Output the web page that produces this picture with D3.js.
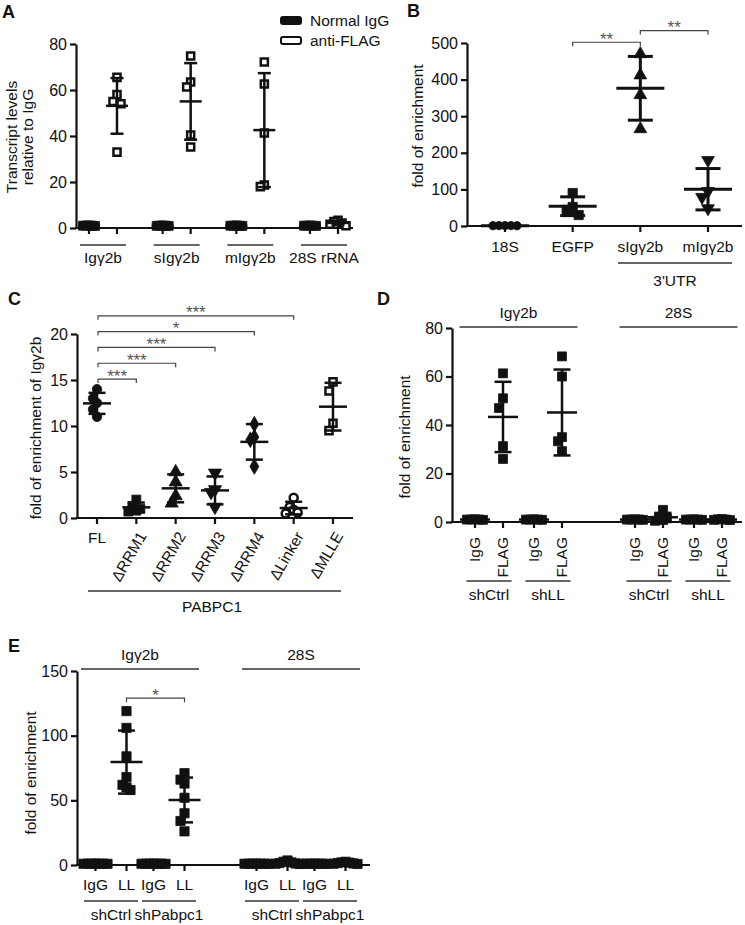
<!DOCTYPE html>
<html lang="en">
<head>
<meta charset="UTF-8">
<title>PABPC1 RIP panels</title>
<style>
  body { margin: 0; background: #fff; }
  svg { font-family: "Liberation Sans", Arial, sans-serif; }
  .axis text { font-size: 16px; fill: #111; }
  .axis path, .axis line { stroke: #111; stroke-width: 2.2; }
  .lab { font-size: 15.5px; fill: #111; }
  .letter { font-size: 18px; font-weight: bold; fill: #111; }
  .sig { font-size: 17px; fill: #555; }
  .bracket { fill: none; stroke: #444; stroke-width: 1.2; }
  .rule { stroke: #333; stroke-width: 1.4; }
</style>
</head>
<body>
<svg width="745" height="925"></svg>
<script src="https://d3js.org/d3.v7.min.js"></script>
<script>

// ---------- data ----------
// A: transcript levels relative to IgG
var aGroups = ["Igγ2b", "sIgγ2b", "mIgγ2b", "28S rRNA"];
var aNormalIgG = [
  [1.0, 1.1, 0.9, 1.0, 1.05],
  [1.0, 0.9, 1.1, 1.0, 0.95],
  [1.0, 1.1, 0.9, 1.0, 1.0],
  [1.0, 1.0, 0.9, 1.1, 1.0]
];
var aAntiFlag = [
  [65.5, 58, 55, 54, 33],
  [74.8, 63.5, 61.3, 40.4, 35.2],
  [72.2, 62.6, 41.3, 18.7, 18.0],
  [3.4, 2.8, 2.2, 1.6, 1.0]
];
var aTicks = [0, 20, 40, 60, 80];

// B: fold of enrichment
var bTargets = ["18S", "EGFP", "sIgγ2b", "mIgγ2b"];
var bFold = [
  [1.0, 1.2, 0.8, 1.1, 0.9],
  [90, 52, 44, 30],
  [470, 412, 358, 265],
  [180, 95, 79, 48]
];
var bTests = [["EGFP", "sIgγ2b", "**"], ["sIgγ2b", "mIgγ2b", "**"]];
var bTicks = [0, 100, 200, 300, 400, 500];

// C: PABPC1 deletion mutants
var cConstructs = ["FL", "ΔRRM1", "ΔRRM2", "ΔRRM3", "ΔRRM4", "ΔLinker", "ΔMLLE"];
var cFold = [
  [14.0, 13.0, 12.5, 11.8, 11.0],
  [2.0, 1.3, 1.0, 0.8, 0.7],
  [5.0, 3.9, 2.4, 1.6],
  [4.9, 3.1, 2.8, 1.2],
  [10.2, 8.8, 8.5, 5.6],
  [2.2, 1.2, 0.9, 0.6, 0.5],
  [14.8, 13.8, 10.3, 9.5]
];
var cTests = [["FL", "ΔRRM1", "***"], ["FL", "ΔRRM2", "***"], ["FL", "ΔRRM3", "***"],
              ["FL", "ΔRRM4", "*"], ["FL", "ΔLinker", "***"]];
var cTicks = [0, 5, 10, 15, 20];

// D: shCtrl IgG, shCtrl FLAG, shLL IgG, shLL FLAG
var dTargets = ["Igγ2b", "28S"];
var dShRNA = ["shCtrl", "shLL"];
var dIP = ["IgG", "FLAG"];
var dIgy2b = [
  [1.0, 1.1, 0.9, 1.0, 1.05],
  [61.3, 51, 47, 31.3, 26],
  [1.0, 1.1, 0.9, 1.0, 1.0],
  [68.3, 60, 35, 33.3, 29.2]
];
var d28S = [
  [1.0, 1.1, 0.9, 1.0, 1.0],
  [5.0, 2.0, 1.5, 0.8, 0.5],
  [1.0, 1.1, 0.9, 1.0, 1.0],
  [1.2, 1.0, 0.9, 1.1, 0.8]
];
var dTicks = [0, 20, 40, 60, 80];

// E: shCtrl IgG, shCtrl LL, shPabpc1 IgG, shPabpc1 LL
var eTargets = ["Igγ2b", "28S"];
var eShRNA = ["shCtrl", "shPabpc1"];
var eIP = ["IgG", "LL"];
var eIgy2b = [
  [1.0, 1.1, 0.9, 1.0, 1.05, 0.95, 1.0],
  [119, 106, 84, 68, 62, 60, 58],
  [1.0, 1.1, 0.9, 1.0, 1.05, 0.95, 1.0],
  [71, 66, 63, 52, 40, 34, 26]
];
var e28S = [
  [1.0, 1.1, 0.9, 1.0, 1.05, 0.95, 1.0],
  [3.5, 2.5, 2.0, 1.5, 1.2, 1.0, 0.8],
  [1.0, 1.1, 0.9, 1.0, 1.05, 0.95, 1.0],
  [2.5, 2.0, 1.8, 1.5, 1.2, 1.0, 0.8]
];
var eTests = [["shCtrl", "shPabpc1", "*"]];
var eTicks = [0, 50, 100, 150];

// ---------- helpers ----------
var svg = d3.select("svg");

function text(x, y, s, cls, anchor) {
  return svg.append("text").attr("class", cls).attr("x", x).attr("y", y)
    .attr("text-anchor", anchor || "middle").text(s);
}

function vtitle(x, y, s) {
  svg.append("text").attr("class", "lab").attr("text-anchor", "middle")
    .attr("transform", "translate(" + x + "," + y + ") rotate(-90)")
    .attr("dy", "0.35em").text(s);
}

function rule(x1, x2, y) {
  svg.append("line").attr("class", "rule").attr("x1", x1).attr("x2", x2).attr("y1", y).attr("y2", y);
}

function yAxis(y, x, ticks) {
  svg.append("g").attr("class", "axis").attr("transform", "translate(" + x + ",0)")
    .call(d3.axisLeft(y).tickValues(ticks).tickSize(6).tickSizeOuter(0).tickPadding(3))
    .attr("font-family", null).attr("font-size", null);
}

function xBase(x0, x1, y0, xs) {
  svg.append("line").attr("x1", x0 - 1).attr("x2", x1).attr("y1", y0).attr("y2", y0)
    .attr("stroke", "#111").attr("stroke-width", 2.2);
  svg.append("g").selectAll("line").data(xs).join("line")
    .attr("x1", function(d) { return d; }).attr("x2", function(d) { return d; })
    .attr("y1", y0).attr("y2", y0 + 6)
    .attr("stroke", "#111").attr("stroke-width", 2.2);
}

function bracket(x1, x2, yb, label) {
  svg.append("path").attr("class", "bracket")
    .attr("d", "M" + x1 + "," + (yb + 4) + "V" + yb + "H" + x2 + "V" + (yb + 4));
  text((x1 + x2) / 2, yb + 2.5, label, "sig");
}

var shapes = {
  square: d3.symbolSquare, circle: d3.symbolCircle,
  up: d3.symbolTriangle, down: d3.symbolTriangle, diamond: d3.symbolDiamond
};

// scatter dot plot column: swarm points, then mean +/- SD on top
function column(x, vals, y, st) {
  var pts = vals.map(function(v) { return {v: v, py: y(v)}; })
    .sort(function(a, b) { return a.py - b.py; });
  var placed = [];
  pts.forEach(function(p) {
    for (var k = 0; k < 40; k++) {
      var off = (k % 2 ? -1 : 1) * Math.ceil(k / 2) * st.spread;
      var ok = placed.every(function(q) {
        return Math.abs(q.px - (x + off)) >= st.spread * 0.99 || Math.abs(q.py - p.py) >= st.coll;
      });
      if (ok) { p.px = x + off; break; }
    }
    placed.push(p);
  });

  var sym = d3.symbol().type(shapes[st.shape]).size(st.size);
  svg.append("g").selectAll("path").data(pts).join("path")
    .attr("d", sym)
    .attr("transform", function(d) {
      return "translate(" + d.px + "," + d.py + ")" + (st.shape === "down" ? " rotate(180)" : "");
    })
    .attr("fill", st.open ? "#fff" : "#111")
    .attr("stroke", "#111")
    .attr("stroke-width", st.open ? 2.5 : 0.8);

  var m = d3.mean(vals), sd = d3.deviation(vals);
  var eb = svg.append("g").attr("stroke", "#111").attr("stroke-width", st.lw);
  eb.append("line").attr("x1", x).attr("x2", x).attr("y1", y(m - sd)).attr("y2", y(m + sd));
  [m - sd, m + sd].forEach(function(v) {
    eb.append("line").attr("x1", x - st.cap / 2).attr("x2", x + st.cap / 2).attr("y1", y(v)).attr("y2", y(v));
  });
  eb.append("line").attr("x1", x - st.mean / 2).attr("x2", x + st.mean / 2).attr("y1", y(m)).attr("y2", y(m));
}

// ---------- panel A ----------
var yA = d3.scaleLinear().domain([0, 80]).range([228, 44]);
var xA = d3.scalePoint().domain(aGroups).range([103, 324]);
var xAm = d3.scalePoint().domain(["IgG", "FLAG"]).range([-14, 14]);
var aPos = [];
aGroups.forEach(function(g) { aPos.push(xA(g) + xAm("IgG"), xA(g) + xAm("FLAG")); });
xBase(76, 353, yA(0), aPos);
yAxis(yA, 76, aTicks);
var stA = {spread: 3, coll: 10, cap: 13, mean: 22, lw: 2.5};
aGroups.forEach(function(g, i) {
  column(xA(g) + xAm("IgG"), aNormalIgG[i], yA, Object.assign({shape: "square", size: 80, open: false}, stA));
  column(xA(g) + xAm("FLAG"), aAntiFlag[i], yA, Object.assign({shape: "square", size: 50, open: true, spread: 4}, stA, {spread: 4}));
  rule(xA(g) - 23, xA(g) + 23, 245);
  text(xA(g), 263, g, "lab");
});
text(2, 18, "A", "letter", "start");
vtitle(12, 137, "Transcript levels");
vtitle(28, 137, "relative to IgG");
svg.append("rect").attr("x", 280).attr("y", 16).attr("width", 22).attr("height", 9).attr("rx", 3).attr("fill", "#111");
svg.append("rect").attr("x", 281).attr("y", 37).attr("width", 20).attr("height", 7).attr("rx", 2)
  .attr("fill", "#fff").attr("stroke", "#111").attr("stroke-width", 2);
text(310, 26, "Normal IgG", "lab", "start");
text(310, 46, "anti-FLAG", "lab", "start");

// ---------- panel B ----------
var yB = d3.scaleLinear().domain([0, 500]).range([226, 43]);
var xB = d3.scalePoint().domain(bTargets).range([505, 708]);
xBase(467, 742, yB(0), bTargets.map(xB));
yAxis(yB, 467, bTicks);
var bShapes = ["circle", "square", "up", "down"];
var bSizes = [55, 85, 70, 70];
bTargets.forEach(function(t, i) {
  column(xB(t), bFold[i], yB, {shape: bShapes[i], size: bSizes[i], open: false,
    spread: 6, coll: 10, cap: 25, mean: 48, lw: 3});
  text(xB(t), 252, t, "lab");
});
rule(618, 732, 263);
text(675, 286, "3'UTR", "lab");
bTests.forEach(function(t, i) { bracket(xB(t[0]), xB(t[1]), yB(502 + i * 32), t[2]); });
text(407, 17, "B", "letter", "start");
vtitle(418, 126, "fold of enrichment");

// ---------- panel C ----------
var yC = d3.scaleLinear().domain([0, 20]).range([518, 334]);
var xC = d3.scalePoint().domain(cConstructs).range([97, 333]);
xBase(77, 353, yC(0), cConstructs.map(xC));
yAxis(yC, 77, cTicks);
var cShapes = ["circle", "square", "up", "down", "diamond", "circle", "square"];
var cOpen = [false, false, false, false, false, true, true];
var cSizes = [70, 80, 75, 75, 70, 50, 50];
cConstructs.forEach(function(c, i) {
  column(xC(c), cFold[i], yC, {shape: cShapes[i], size: cSizes[i], open: cOpen[i],
    spread: 4, coll: 10, cap: 17, mean: 28, lw: 2.5});
  if (i === 0) {
    text(xC(c), 543, c, "lab");
  } else {
    svg.append("text").attr("class", "lab").attr("text-anchor", "end").attr("dy", "0.35em")
      .attr("transform", "translate(" + (xC(c) + 6) + ",533) rotate(-60)").text(c);
  }
});
rule(88, 341, 591);
text(212, 612, "PABPC1", "lab");
cTests.forEach(function(t, i) { bracket(xC(t[0]) + 1, xC(t[1]), yC(15.1 + i * 1.72), t[2]); });
text(8, 305, "C", "letter", "start");
vtitle(36, 428, "fold of enrichment of Igγ2b");

// ---------- panel D ----------
var yD = d3.scaleLinear().domain([0, 80]).range([522, 328]);
var xDt = d3.scalePoint().domain(dTargets).range([518.5, 678.5]);
var xDs = d3.scalePoint().domain(dShRNA).range([-29.5, 29.5]);
var xDi = d3.scalePoint().domain(dIP).range([-14, 14]);
var dPos = [];
dTargets.forEach(function(t) { dShRNA.forEach(function(s) { dIP.forEach(function(p) {
  dPos.push(xDt(t) + xDs(s) + xDi(p)); }); }); });
xBase(452, 742, yD(0), dPos);
yAxis(yD, 452, dTicks);
[dIgy2b, d28S].forEach(function(set, ti) {
  var t = dTargets[ti];
  set.forEach(function(vals, j) {
    var s = dShRNA[j >> 1], p = dIP[j & 1];
    var x = xDt(t) + xDs(s) + xDi(p);
    column(x, vals, yD, {shape: "square", size: 80, open: false, spread: 4, coll: 10, cap: 17, mean: 30, lw: 2.5});
    svg.append("text").attr("class", "lab").attr("text-anchor", "end").attr("dy", "0.35em")
      .attr("transform", "translate(" + x + ",537) rotate(-90)").text(p);
  });
  dShRNA.forEach(function(s) {
    rule(xDt(t) + xDs(s) - 22.5, xDt(t) + xDs(s) + 22.5, 581);
    text(xDt(t) + xDs(s), 600, s, "lab");
  });
  rule(xDt(t) - 59, xDt(t) + 59, 327);
  text(xDt(t), 318, t, "lab");
});
text(377, 305, "D", "letter", "start");
vtitle(405, 437, "fold of enrichment");

// ---------- panel E ----------
var yE = d3.scaleLinear().domain([0, 150]).range([865, 671]);
var xEt = d3.scalePoint().domain(eTargets).range([140, 301]);
var xEs = d3.scalePoint().domain(eShRNA).range([-29, 29]);
var xEi = d3.scalePoint().domain(eIP).range([-15.5, 15.5]);
var ePos = [];
eTargets.forEach(function(t) { eShRNA.forEach(function(s) { eIP.forEach(function(p) {
  ePos.push(xEt(t) + xEs(s) + xEi(p)); }); }); });
xBase(77, 370, yE(0), ePos);
yAxis(yE, 77, eTicks);
[eIgy2b, e28S].forEach(function(set, ti) {
  var t = eTargets[ti];
  set.forEach(function(vals, j) {
    var s = eShRNA[j >> 1], p = eIP[j & 1];
    var x = xEt(t) + xEs(s) + xEi(p);
    column(x, vals, yE, {shape: "square", size: 85, open: false, spread: 4, coll: 10, cap: 17, mean: 32, lw: 2.5});
    text(x, 890, p, "lab");
  });
  eShRNA.forEach(function(s) {
    rule(xEt(t) + xEs(s) - 27, xEt(t) + xEs(s) + 27, 901);
    text(xEt(t) + xEs(s), 920, s, "lab");
  });
  rule(xEt(t) - 59, xEt(t) + 59, 669);
  text(xEt(t), 660, t, "lab");
});
eTests.forEach(function(t) {
  var t0 = eTargets[0];
  bracket(xEt(t0) + xEs(t[0]) + xEi("LL"), xEt(t0) + xEs(t[1]) + xEi("LL"), yE(129), t[2]);
});
text(8, 652, "E", "letter", "start");
vtitle(31, 773, "fold of enrichment");

</script>
</body>
</html>
